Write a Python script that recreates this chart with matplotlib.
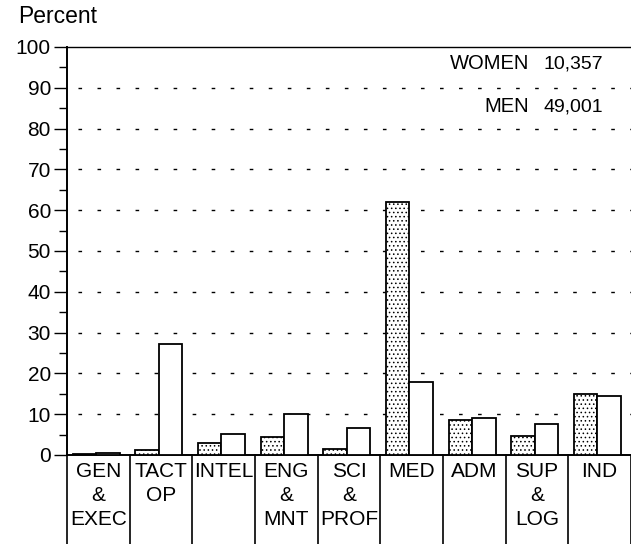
import matplotlib
matplotlib.use("Agg")
import matplotlib.pyplot as plt
import numpy as np

plt.rcParams['font.family'] = ['Liberation Sans', 'DejaVu Sans']
plt.rcParams['hatch.linewidth'] = 0.6

categories = ["GEN\n&\nEXEC", "TACT\nOP", "INTEL", "ENG\n&\nMNT", "SCI\n&\nPROF",
              "MED", "ADM", "SUP\n&\nLOG", "IND"]
women = [0.2, 1.2, 2.9, 4.3, 1.4, 62.0, 8.7, 4.6, 14.9]
men = [0.4, 27.2, 5.1, 10.0, 6.6, 18.0, 9.0, 7.7, 14.4]
legend_names = ["WOMEN", "MEN"]
legend_counts = ["10,357", "49,001"]
yticks = list(range(0, 101, 10))

fig = plt.figure(figsize=(6.31, 5.44), dpi=100)
ax = fig.add_axes([67/631, 89/544, 564/631, 408/544])

n = len(categories)
x = np.arange(n)
bw = 0.375
ax.bar(x + 0.09, women, width=bw, align='edge', facecolor='white',
       edgecolor='black', hatch='....', linewidth=1.3, zorder=3)
ax.bar(x + 0.09 + bw, men, width=bw, align='edge', facecolor='white',
       edgecolor='black', linewidth=1.3, zorder=3)

for v in yticks[1:-1]:
    ax.axhline(v, color='black', linewidth=1.0, linestyle=(5.8, (2.6, 11.1)), zorder=1)

ax.set_xlim(0, n)
ax.set_ylim(0, 100)
ax.set_yticks(yticks)
ax.set_yticks(np.arange(5, 100, 10), minor=True)
ax.tick_params(axis='y', which='major', length=9.4, width=1.0, pad=2.2, labelsize=15)
ax.tick_params(axis='y', which='minor', length=5.8, width=1.0)
ax.set_xticks([])
ax.spines['right'].set_visible(False)
ax.spines['left'].set_linewidth(1.4)
ax.spines['bottom'].set_linewidth(1.4)
ax.spines['top'].set_linewidth(1.0)

# category boxes below the axis
trans = ax.get_xaxis_transform()
for i in range(n + 1):
    ax.plot([i, i], [0, -89/408], transform=trans, color='black', linewidth=1.2,
            clip_on=False)
for i, lab in enumerate(categories):
    ax.annotate(lab, xy=(i + 0.5, 0), xycoords=trans, xytext=(0, -5),
                textcoords='offset points', ha='center', va='top',
                fontsize=15, linespacing=1.35)

# legend-like text
for j, (nm, ct) in enumerate(zip(legend_names, legend_counts)):
    yv = [94.7, 84.1][j]
    ax.text(7.37, yv, nm, ha='right', va='baseline', fontsize=14.5, zorder=4)
    ax.text(8.55, yv, ct, ha='right', va='baseline', fontsize=14, zorder=4)

fig.text(18/631, 1 - 23/544, "Percent", ha='left', va='baseline', fontsize=16.5)

fig.savefig("out.png", dpi=100)
